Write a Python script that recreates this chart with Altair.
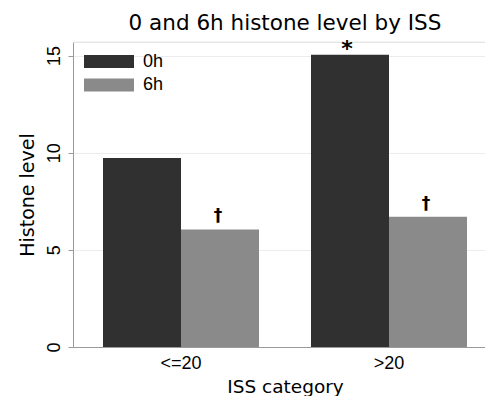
import altair as alt
import pandas as pd

categories = ["<=20", ">20"]
groups = ["0h", "6h"]
values_0h = [9.73, 15.04]
values_6h = [6.05, 6.7]
marks_0h = ["", "*"]
marks_6h = ["†", "†"]
y_ticks = [0, 5, 10, 15]
colors = ["#303030", "#8a8a8a"]

rows = []
for i, c in enumerate(categories):
    rows.append({"category": c, "group": "0h", "value": values_0h[i], "mark": marks_0h[i]})
    rows.append({"category": c, "group": "6h", "value": values_6h[i], "mark": marks_6h[i]})
df = pd.DataFrame(rows)

FONT = "DejaVu Sans"
LFONT = "Liberation Sans"

x_enc = alt.X(
    "category:N",
    sort=categories,
    scale=alt.Scale(paddingInner=0.25, paddingOuter=0.1154, align=0.625),
    axis=alt.Axis(
        labelAngle=0, ticks=False, labelPadding=7, labelFontSize=18, labelFont=LFONT,
        labelColor="black", title="ISS category", titleFontSize=18.5, titleFont=FONT,
        titleFontWeight="normal", titleColor="black", titleX=212, titleY=45,
        titleBaseline="alphabetic", titleAlign="center", domainColor="#9a9a9a",
        grid=False,
    ),
)
xoff = alt.XOffset("group:N", sort=groups, scale=alt.Scale(paddingInner=0, paddingOuter=0))
y_enc = alt.Y(
    "value:Q",
    scale=alt.Scale(domain=[0, 15.7], nice=False, zero=True),
    axis=alt.Axis(
        values=y_ticks, title="Histone level", labelAngle=270, labelAlign="center",
        labelBaseline="alphabetic", labelPadding=9, tickSize=5, tickColor="#9a9a9a",
        domainColor="#9a9a9a", grid=True, gridColor="#ececec", labelFontSize=18,
        labelFont=LFONT, labelColor="black", titleFontSize=19, titleFont=FONT,
        titleFontWeight="normal", titleColor="black", titleAngle=270,
        titleBaseline="alphabetic", titleAlign="center", titleX=-40, titleY=152.5,
    ),
)

base = alt.Chart(df)

bars = base.mark_bar().encode(
    x=x_enc,
    xOffset=xoff,
    y=y_enc,
    color=alt.Color(
        "group:N",
        sort=groups,
        scale=alt.Scale(domain=groups, range=colors),
        legend=alt.Legend(
            title=None, orient="none", legendX=26, legendY=9.5,
            symbolType="M-2.5,-0.65H2.5V0.65H-2.5Z", symbolSize=400,
            symbolStrokeWidth=0, symbolOpacity=1, labelOffset=24, labelFontSize=18,
            labelFont=LFONT, labelColor="black", rowPadding=4.5, padding=0,
        ),
    ),
)

star = base.transform_filter(alt.datum.mark == "*").mark_text(
    fontSize=22, fontWeight="bold", font=FONT, baseline="alphabetic", dy=1, dx=-3, color="black"
).encode(x=x_enc, xOffset=xoff, y=y_enc, text="mark:N")

dagger = base.transform_filter(alt.datum.mark == "†").mark_text(
    fontSize=17, fontWeight="bold", font=FONT, baseline="alphabetic", dy=-8, dx=-2, color="black"
).encode(x=x_enc, xOffset=xoff, y=y_enc, text="mark:N")

top_line = alt.Chart(pd.DataFrame({"k": [0]})).mark_rule(color="#ececec", strokeWidth=1).encode(
    x=alt.value(0), x2=alt.value(412), y=alt.value(0)
)

chart = alt.layer(top_line, bars, star, dagger).properties(
    width=412,
    height=305,
    autosize=alt.AutoSizeParams(type="none"),
    padding={"left": 73, "top": 42, "right": 0, "bottom": 49},
    title=alt.Title(
        "0 and 6h histone level by ISS", fontSize=21.5, font=FONT, fontWeight="normal",
        anchor="middle", dx=6, dy=24, baseline="alphabetic", offset=10, color="black",
    ),
).configure_view(stroke=None).configure(background="white")

chart.save("out.html", embed_options={"renderer": "svg", "actions": False})
